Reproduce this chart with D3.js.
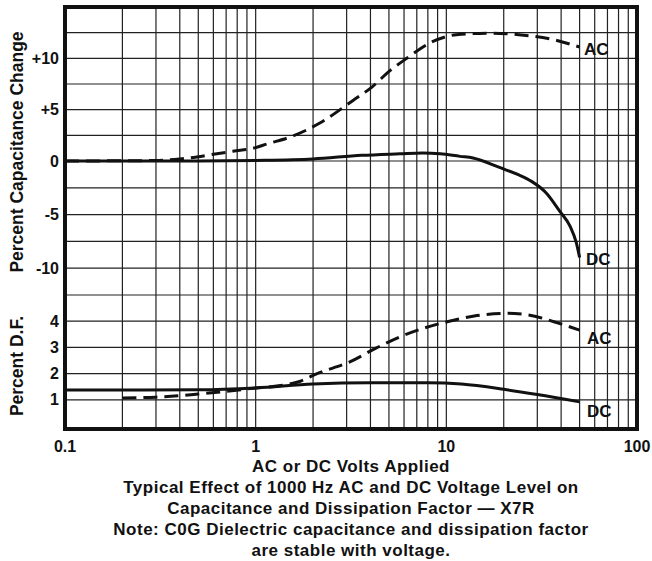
<!DOCTYPE html>
<html><head><meta charset="utf-8">
<script src="https://cdn.jsdelivr.net/npm/d3@7"></script>
<style>body{margin:0;background:#fff}svg{display:block}text{font-family:"Liberation Sans",Arial,sans-serif;font-weight:bold;fill:#111}</style>
</head><body>
<svg id="c" width="652" height="561"></svg>
<script>
// Data
const capAC = [[0.1,0],[0.3,0.05],[0.4,0.2],[0.6,0.65],[0.76,0.95],[1,1.3],[1.14,1.65],[1.5,2.3],[2.17,3.7],[3.24,5.9],[4.07,7.2],[5.06,8.8],[6.2,10.0],[8.2,11.5],[11.3,12.3],[16.9,12.45],[24,12.3],[35,11.9],[50,11.1]];
const capDC = [[0.1,0],[0.5,0],[1,0.05],[2,0.2],[3.6,0.55],[5.7,0.7],[7.5,0.78],[9.3,0.7],[11.8,0.45],[13.8,0.3],[19,-0.6],[24,-1.3],[28,-1.9],[33.5,-3.0],[39.4,-4.7],[44.6,-6.1],[48,-7.6],[50,-9.0]];
const dfAC = [[0.2,1.07],[0.3,1.1],[0.5,1.22],[0.7,1.32],[1,1.45],[1.4,1.56],[1.7,1.7],[2.1,2.0],[3.1,2.44],[4.3,2.98],[5.7,3.4],[7.5,3.72],[10,3.97],[14,4.2],[21,4.3],[27,4.24],[37,3.97],[50,3.66]];
const dfDC = [[0.1,1.37],[0.5,1.38],[1,1.45],[2,1.6],[4,1.65],[8,1.65],[12,1.6],[20,1.4],[30,1.2],[50,0.92]];
const xTicks = [0.1,1,10,100];
const capTicks = [10,5,0,-5,-10];
const capTickLabels = ["+10","+5","0","-5","-10"];
const capGrid = [12.5,10,7.5,5,2.5,0,-2.5,-5,-7.5,-10,-12.5];
const dfTicks = [4,3,2,1];
const captions = ["AC or DC Volts Applied","Typical Effect of 1000 Hz AC and DC Voltage Level on","Capacitance and Dissipation Factor — X7R","Note: C0G Dielectric capacitance and dissipation factor","are stable with voltage."];

const svg = d3.select("#c");
const L=65,R=637,T=7,B=429;
const x = d3.scaleLog().domain([0.1,100]).range([L,R]);
const yC = d3.scaleLinear().domain([-12.5,0,15]).range([295,161,7]);
const yD = d3.scaleLinear().domain([0,5]).range([426,295]);

// grid
const minor=[];
[0.1,1,10].forEach(d=>{for(let k=2;k<=9;k++)minor.push(d*k);});
minor.push(1,10);
svg.append("g").selectAll("line").data(minor).join("line")
 .attr("x1",d=>x(d)).attr("x2",d=>x(d)).attr("y1",T).attr("y2",B)
 .attr("stroke","#222").attr("stroke-width",1.2);
svg.append("g").selectAll("line").data(capGrid).join("line")
 .attr("x1",L).attr("x2",R).attr("y1",d=>yC(d)).attr("y2",d=>yC(d))
 .attr("stroke","#222").attr("stroke-width",1.2);
svg.append("g").selectAll("line").data(dfTicks).join("line")
 .attr("x1",L).attr("x2",R).attr("y1",d=>yD(d)).attr("y2",d=>yD(d))
 .attr("stroke","#222").attr("stroke-width",1.2);

// frame
svg.append("rect").attr("x",L).attr("y",T).attr("width",R-L).attr("height",B-T)
 .attr("fill","none").attr("stroke","#111").attr("stroke-width",4);

// curves
const lineC = d3.line().x(d=>x(d[0])).y(d=>yC(d[1])).curve(d3.curveMonotoneX);
const lineD = d3.line().x(d=>x(d[0])).y(d=>yD(d[1])).curve(d3.curveMonotoneX);
svg.append("path").attr("d",lineC(capDC)).attr("fill","none").attr("stroke","#111").attr("stroke-width",3);
svg.append("path").attr("d",lineC(capAC)).attr("fill","none").attr("stroke","#111").attr("stroke-width",3).attr("stroke-dasharray","14,7");
svg.append("path").attr("d",lineD(dfDC)).attr("fill","none").attr("stroke","#111").attr("stroke-width",3);
svg.append("path").attr("d",lineD(dfAC)).attr("fill","none").attr("stroke","#111").attr("stroke-width",3).attr("stroke-dasharray","14,7");

// series labels
const lab=(t,xx,yy)=>svg.append("text").attr("x",xx).attr("y",yy).attr("dy","0.35em").attr("font-size",17).text(t);
lab("AC",584,49); lab("DC",586,259); lab("AC",587,338); lab("DC",587,411);

// axes labels
svg.append("g").selectAll("text").data(xTicks).join("text")
 .attr("x",d=>x(d)).attr("y",452).attr("text-anchor","middle").attr("font-size",16).text(d=>String(d));
svg.append("g").selectAll("text").data(capTicks).join("text")
 .attr("x",59).attr("y",d=>yC(d)).attr("dy","0.35em").attr("text-anchor","end").attr("font-size",16).text((d,i)=>capTickLabels[i]);
svg.append("g").selectAll("text").data(dfTicks).join("text")
 .attr("x",59).attr("y",d=>yD(d)).attr("dy","0.35em").attr("text-anchor","end").attr("font-size",16).text(d=>String(d));

svg.append("text").attr("transform","translate(17,152) rotate(-90)").attr("dy","0.35em").attr("text-anchor","middle").attr("font-size",17.5).text("Percent Capacitance Change");
svg.append("text").attr("transform","translate(17,366) rotate(-90)").attr("dy","0.35em").attr("text-anchor","middle").attr("font-size",17.5).text("Percent D.F.");

svg.append("g").selectAll("text").data(captions).join("text")
 .attr("x",351).attr("y",(d,i)=>466+i*21).attr("dy","0.35em").attr("text-anchor","middle").attr("font-size",17).attr("letter-spacing",0.5).text(d=>d);
</script>
</body></html>
